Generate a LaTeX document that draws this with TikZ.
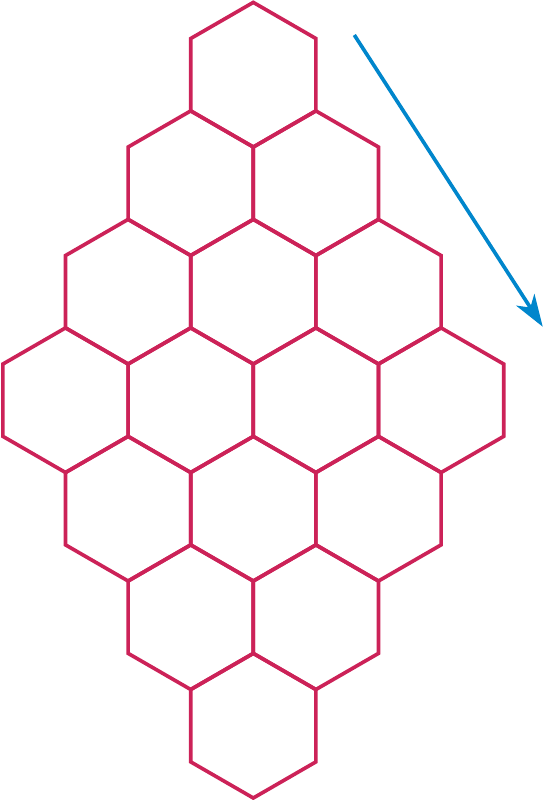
\documentclass[tikz,border=0pt]{standalone}
\usetikzlibrary{calc, positioning}
\usetikzlibrary{arrows.meta}
\definecolor{hexred}{RGB}{204,34,88}
\definecolor{arrowblue}{RGB}{0,134,204}

\begin{document}
\begin{tikzpicture}[x=0.025cm, y=-0.025cm]
\def\R{72.3}
\def\dx{62.6}
\def\dy{108.5}
\def\lw{2.6pt}

\useasboundingbox (0,0) rectangle (544,800);

\coordinate (T) at (253.3,74.7);
\coordinate (S) at (354.3,35);
\coordinate (E) at (542.7,326.7);

\foreach \i in {0,...,3}{
  \foreach \j in {0,...,3}{
    \coordinate (H\i\j) at ($(T)+({(\j-\i)*\dx},{(\i+\j)*\dy})$);
    \draw[hexred, line width=\lw, line join=miter]
      ($(H\i\j)+(30:\R)$) -- ($(H\i\j)+(90:\R)$) -- ($(H\i\j)+(150:\R)$)
      -- ($(H\i\j)+(210:\R)$) -- ($(H\i\j)+(270:\R)$) -- ($(H\i\j)+(330:\R)$) -- cycle;
  }
}

\draw[arrowblue, line width=\lw, -{Stealth[length=8mm, width=5.4mm, inset=2.3mm]}] (S) -- (E);
\end{tikzpicture}
\end{document}
